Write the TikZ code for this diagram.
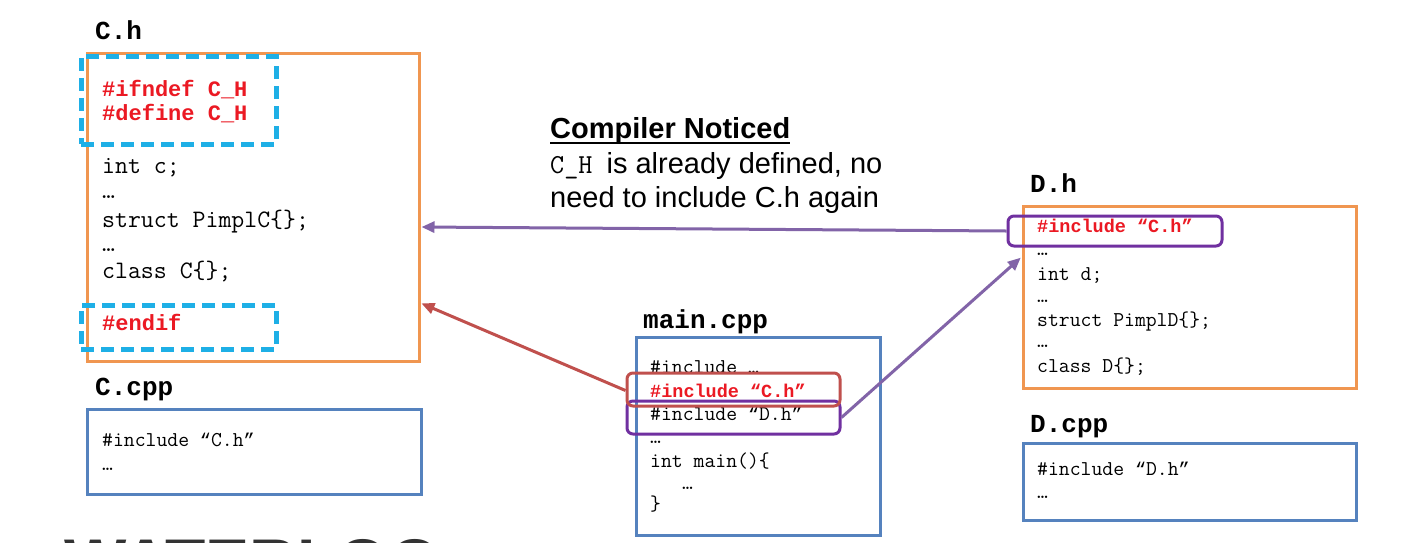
\documentclass[tikz,border=0pt]{standalone}
\usepackage{fontspec}
\setmainfont{Liberation Sans}
\setsansfont{Liberation Sans}
\newfontfamily\libmono{Liberation Mono}
\usetikzlibrary{arrows.meta,fit}
\definecolor{orangeb}{RGB}{240,150,80}
\definecolor{blueb}{RGB}{85,130,190}
\definecolor{cyand}{RGB}{30,175,230}
\definecolor{redc}{RGB}{235,25,35}
\definecolor{redbox}{RGB}{192,80,77}
\definecolor{purplebox}{RGB}{112,48,160}
\definecolor{purplearrow}{RGB}{130,100,168}
\definecolor{redarrow}{RGB}{192,80,77}
\newcommand\oq{{\libmono\fontsize{18.5}{18.5}\selectfont “}}
\newcommand\cq{{\libmono\fontsize{18.5}{18.5}\selectfont ”}}
\begin{document}
\begin{tikzpicture}[x=1pt,y=-1pt,
  code/.style={anchor=base west, inner sep=0pt, font=\fontsize{21.1}{21.1}\selectfont\ttfamily},
  redcode/.style={code, text=redc, font=\fontsize{18.5}{18.5}\selectfont\libmono\bfseries},
  bigcode/.style={code, font=\fontsize{25.1}{25.1}\selectfont\ttfamily},
  bigred/.style={code, text=redc, font=\fontsize{22}{22}\selectfont\libmono\bfseries},
  filelabel/.style={anchor=base west, inner sep=0pt, font=\fontsize{26}{26}\selectfont\libmono\bfseries},
  note/.style={anchor=base west, inner sep=0pt, font=\fontsize{29}{29}\selectfont},
  hbox/.style={draw=orangeb, line width=3pt, inner sep=0pt},
  cppbox/.style={draw=blueb, line width=3pt, inner sep=0pt},
  dashbox/.style={draw=cyand, line width=5pt, dash pattern=on 13pt off 7pt, inner sep=0pt},
  redsel/.style={draw=redbox, line width=3pt, rounded corners=6pt, inner sep=0pt},
  purpsel/.style={draw=purplebox, line width=3pt, rounded corners=6pt, inner sep=0pt},
  arr/.style={line width=3pt, -{Triangle[length=13pt,width=11pt]}, shorten >=1pt}
]
\path[fill=white] (0,0) rectangle (1406,542);
\useasboundingbox (0,0) rectangle (1406,542);

% logo fragment at bottom
\begin{scope}
\clip (0,0) rectangle (1406,542);
\node[anchor=base west, inner sep=0pt, font=\fontsize{66}{66}\selectfont\bfseries, text=black!80] (logo) at (64,585) {WATERLOO};
\end{scope}

% ---------- C.h ----------
\node[filelabel] (chlabel) at (95,39) {C.h};
\node[hbox, fit={(87,53) (419,361)}] (ch) {};
\node[bigred] (ch1) at (102,96) {\#ifndef C\_H};
\node[bigred] (ch2) at (102,120) {\#define C\_H};
\node[bigcode] (ch3) at (102,173) {int c;};
\node[bigcode] (ch4) at (102,198) {…};
\node[bigcode] (ch5) at (102,227) {struct PimplC\{\};};
\node[bigcode] (ch6) at (102,251) {…};
\node[bigcode] (ch7) at (102,278) {class C\{\};};
\node[bigred] (ch8) at (102,330) {\#endif};
\node[dashbox, fit={(81,56) (276,144)}] (guardtop) {};
\node[dashbox, fit={(81,305) (276,349)}] (guardbot) {};

% ---------- C.cpp ----------
\node[filelabel] (ccpplabel) at (95,395) {C.cpp};
\node[cppbox, fit={(87,409) (421,494)}] (ccpp) {};
\node[code] (cc1) at (102,446) {\#include \oq C.h\cq};
\node[code] (cc2) at (102,470) {…};

% ---------- main.cpp ----------
\node[filelabel] (mainlabel) at (643,328) {main.cpp};
\node[cppbox, fit={(636,337) (880,535)}] (main) {};
\node[code] (m1) at (650,373) {\#include …};
\node[redcode] (m2) at (650,397) {\#include “C.h”};
\node[code] (m3) at (650,420) {\#include \oq D.h\cq};
\node[code] (m4) at (650,443) {…};
\node[code] (m5) at (650,467) {int main()\{};
\node[code] (m6) at (682,489) {…};
\node[code] (m7) at (650,510) {\}};
\node[purpsel, fit={(627,401) (840,434)}] (selD) {};
\node[redsel, fit={(627,373) (840,406)}] (selC) {};

% ---------- D.h ----------
\node[filelabel] (dhlabel) at (1030,192) {D.h};
\node[hbox, fit={(1023,206) (1356,388)}] (dh) {};
\node[redcode] (d1) at (1037,232) {\#include “C.h”};
\node[code] (d2) at (1037,255) {…};
\node[code] (d3) at (1037,280) {int d;};
\node[code] (d4) at (1037,302) {…};
\node[code] (d5) at (1037,326) {struct PimplD\{\};};
\node[code] (d6) at (1037,347) {…};
\node[code] (d7) at (1037,372) {class D\{\};};
\node[purpsel, fit={(1008,216) (1222,246)}] (selDh) {};

% ---------- D.cpp ----------
\node[filelabel] (dcpplabel) at (1030,432) {D.cpp};
\node[cppbox, fit={(1023,443) (1356,520)}] (dcpp) {};
\node[code] (dc1) at (1037,475) {\#include \oq D.h\cq};
\node[code] (dc2) at (1037,498) {…};

% ---------- note ----------
\node[note, font=\fontsize{29}{29}\selectfont\bfseries] (n1) at (550,138) {Compiler Noticed};
\draw[line width=2.2pt] ([yshift=-5pt]n1.base west) -- ([yshift=-5pt]n1.base east);
\node[note] (n2) at (550,173) {{\ttfamily\fontsize{27.4}{27.4}\selectfont C\_H }is already defined, no};
\node[note] (n3) at (550,207) {need to include C.h again};

% ---------- arrows ----------
\draw[arr, draw=purplearrow, fill=purplearrow] (selDh.west) -- ([yshift=-20pt]ch.east);
\draw[arr, draw=redarrow, fill=redarrow] ([yshift=-1pt]selC.west) -- ([yshift=-96pt]ch.east);
\draw[arr, draw=purplearrow, fill=purplearrow] (selD.east) -- ([yshift=40pt]dh.west);
\end{tikzpicture}
\end{document}
